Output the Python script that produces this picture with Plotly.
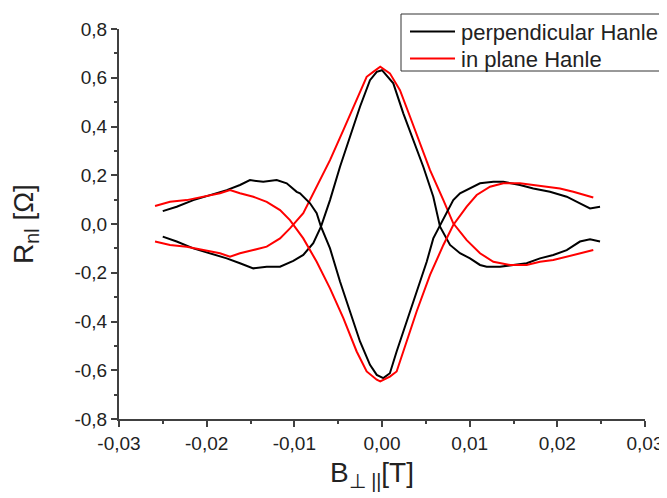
import plotly.graph_objects as go

# ---- data (B in T, R_nl in Ohm) ----
perp_dip_x = [-0.02501, -0.02342, -0.02152, -0.01962, -0.01771, -0.01620, -0.01506, -0.01354, -0.01201,
              -0.01087, -0.00973, -0.00935, -0.00821, -0.00745, -0.00696, -0.00593, -0.00479, -0.00365,
              -0.00251, -0.00137, -0.00060, 0.00015, 0.00090, 0.00167, 0.00281, 0.00395, 0.00510,
              0.00585, 0.00662, 0.00813, 0.00890, 0.01004, 0.01118, 0.01270, 0.01384, 0.01574,
              0.01726, 0.01916, 0.02107, 0.02258, 0.02373, 0.02487]
perp_dip_y = [0.053, 0.071, 0.098, 0.119, 0.139, 0.160, 0.180, 0.173, 0.180,
              0.167, 0.132, 0.126, 0.085, 0.044, -0.011, -0.100, -0.236, -0.359,
              -0.482, -0.578, -0.619, -0.632, -0.612, -0.523, -0.400, -0.277, -0.155,
              -0.059, -0.004, 0.098, 0.126, 0.146, 0.167, 0.173, 0.173, 0.160,
              0.146, 0.132, 0.112, 0.085, 0.064, 0.071]

perp_peak_x = [-0.02501, -0.02342, -0.02152, -0.01962, -0.01771, -0.01620, -0.01468, -0.01315, -0.01163,
               -0.01012, -0.00898, -0.00784, -0.00696, -0.00593, -0.00479, -0.00365, -0.00251, -0.00137,
               -0.00060, 0.00000, 0.00129, 0.00243, 0.00357, 0.00471, 0.00585, 0.00662, 0.00776,
               0.00890, 0.01004, 0.01118, 0.01194, 0.01346, 0.01498, 0.01650, 0.01802, 0.01954,
               0.02107, 0.02258, 0.02373, 0.02487]
perp_peak_y = [-0.052, -0.072, -0.100, -0.120, -0.141, -0.161, -0.182, -0.175, -0.175,
               -0.151, -0.127, -0.079, -0.011, 0.098, 0.235, 0.358, 0.481, 0.590,
               0.624, 0.631, 0.577, 0.454, 0.344, 0.235, 0.112, -0.011, -0.086,
               -0.120, -0.141, -0.168, -0.175, -0.175, -0.168, -0.161, -0.141, -0.127,
               -0.107, -0.072, -0.063, -0.072]

plane_dip_x = [-0.02589, -0.02418, -0.02228, -0.02038, -0.01848, -0.01734, -0.01620, -0.01468, -0.01315,
               -0.01163, -0.01050, -0.00898, -0.00745, -0.00593, -0.00441, -0.00289, -0.00175, -0.00060,
               -0.00020, 0.00090, 0.00167, 0.00281, 0.00395, 0.00548, 0.00700, 0.00813, 0.00966,
               0.01080, 0.01232, 0.01384, 0.01574, 0.01726, 0.01879, 0.02030, 0.02182, 0.02410]
plane_dip_y = [0.074, 0.091, 0.098, 0.112, 0.126, 0.139, 0.126, 0.112, 0.091,
               0.057, 0.016, -0.059, -0.155, -0.264, -0.386, -0.523, -0.605, -0.639,
               -0.646, -0.626, -0.605, -0.482, -0.359, -0.209, -0.086, -0.004, 0.071,
               0.119, 0.153, 0.167, 0.167, 0.160, 0.153, 0.146, 0.132, 0.109]

plane_peak_x = [-0.02589, -0.02418, -0.02228, -0.02038, -0.01848, -0.01734, -0.01620, -0.01468, -0.01315,
                -0.01163, -0.01050, -0.00898, -0.00745, -0.00593, -0.00441, -0.00289, -0.00175, -0.00100,
                -0.00020, 0.00090, 0.00205, 0.00320, 0.00433, 0.00548, 0.00700, 0.00813, 0.00966,
                0.01118, 0.01270, 0.01460, 0.01650, 0.01802, 0.01954, 0.02107, 0.02258, 0.02410]
plane_peak_y = [-0.072, -0.086, -0.093, -0.107, -0.120, -0.134, -0.120, -0.107, -0.093,
                -0.059, -0.018, 0.044, 0.153, 0.262, 0.385, 0.508, 0.604, 0.624,
                0.645, 0.618, 0.549, 0.440, 0.331, 0.221, 0.098, 0.003, -0.066,
                -0.120, -0.155, -0.168, -0.168, -0.155, -0.148, -0.134, -0.120, -0.107]

x_tickvals = [-0.03, -0.02, -0.01, 0.00, 0.01, 0.02, 0.03]
x_ticktext = ["-0,03", "-0,02", "-0,01", "0,00", "0,01", "0,02", "0,03"]
y_tickvals = [-0.8, -0.6, -0.4, -0.2, 0.0, 0.2, 0.4, 0.6, 0.8]
y_ticktext = ["-0,8", "-0,6", "-0,4", "-0,2", "0,0", "0,2", "0,4", "0,6", "0,8"]

series_names = ["perpendicular Hanle", "in plane Hanle"]
series_colors = ["#000000", "#ff0000"]
x_title = "B<sub>⊥ ||</sub>[T]"
y_title = "R<sub>nl</sub> [Ω]"

FONT = "Liberation Sans, Arial, sans-serif"
AXC = "#404040"
TXT = "#222222"

# plot-area geometry (screen px) used to place the boxed legend
PL, PR, PT, PB = 119, 645, 29, 419


def px_x(sx):
    return (sx - PL) / (PR - PL)


def px_y(sy):
    return (PB - sy) / (PB - PT)


fig = go.Figure()
fig.add_trace(go.Scatter(x=perp_peak_x, y=perp_peak_y, mode="lines", name=series_names[0],
                         line=dict(color=series_colors[0], width=2)))
fig.add_trace(go.Scatter(x=plane_peak_x, y=plane_peak_y, mode="lines", name=series_names[1],
                         line=dict(color=series_colors[1], width=2)))
fig.add_trace(go.Scatter(x=perp_dip_x, y=perp_dip_y, mode="lines", name=series_names[0],
                         line=dict(color=series_colors[0], width=2)))
fig.add_trace(go.Scatter(x=plane_dip_x, y=plane_dip_y, mode="lines", name=series_names[1],
                         line=dict(color=series_colors[1], width=2)))

axis_common = dict(
    showline=True, linecolor=AXC, linewidth=2,
    ticks="outside", ticklen=6, tickwidth=1.5, tickcolor=AXC,
    showgrid=False, zeroline=False, mirror=False,
    tickfont=dict(family=FONT, size=19, color=TXT),
)

# boxed legend drawn in paper coordinates
shapes = [dict(type="rect", xref="paper", yref="paper",
               x0=px_x(401), x1=px_x(680), y0=px_y(71), y1=px_y(14),
               line=dict(color="#333333", width=1), fillcolor="white", layer="above")]
annotations = []
row_y = [31.5, 58.5]
for name, color, ry in zip(series_names, series_colors, row_y):
    shapes.append(dict(type="line", xref="paper", yref="paper",
                       x0=px_x(410), x1=px_x(455), y0=px_y(ry), y1=px_y(ry),
                       line=dict(color=color, width=2), layer="above"))
    annotations.append(dict(text=name, xref="paper", yref="paper", x=px_x(459), y=px_y(ry + 1),
                            xanchor="left", yanchor="middle", showarrow=False,
                            font=dict(family=FONT, size=22, color=TXT)))

annotations.append(dict(text=x_title, xref="paper", yref="paper",
                        x=px_x(372), y=-(494 - PB) / (PB - PT),
                        xanchor="center", yanchor="bottom", showarrow=False,
                        font=dict(family=FONT, size=28, color=TXT)))

fig.update_layout(
    width=667, height=498,
    margin=dict(l=111, r=30, t=21, b=87, autoexpand=False),
    paper_bgcolor="white", plot_bgcolor="white",
    font=dict(family=FONT, color=TXT),
    showlegend=False,
    xaxis=dict(range=[-0.03, 0.03], tickvals=x_tickvals, ticktext=x_ticktext,
               minor=dict(dtick=0.005, ticks="outside", ticklen=3, tickwidth=1.5, tickcolor=AXC),
               **axis_common),
    yaxis=dict(range=[-0.8, 0.8], tickvals=y_tickvals, ticktext=y_ticktext,
               minor=dict(dtick=0.1, ticks="outside", ticklen=3, tickwidth=1.5, tickcolor=AXC),
               title=dict(text=y_title, font=dict(family=FONT, size=28, color=TXT),
                          standoff=33),
               **axis_common),
    shapes=shapes,
    annotations=annotations,
)

fig.write_html("out.html")
